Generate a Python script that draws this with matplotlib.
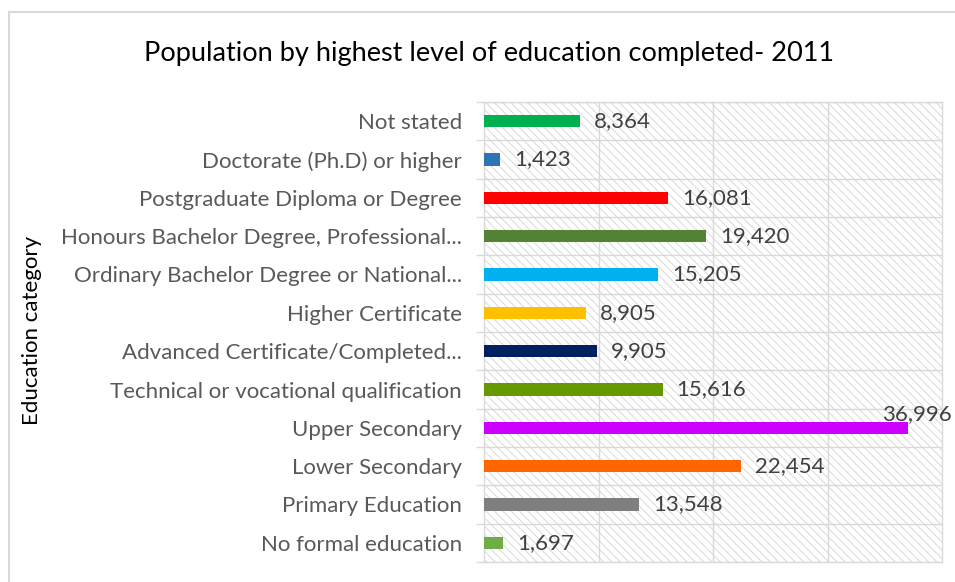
import matplotlib.pyplot as plt
from matplotlib.patches import Rectangle
import numpy as np

categories = [
    'No formal education',
    'Primary Education',
    'Lower Secondary',
    'Upper Secondary',
    'Technical or vocational qualification',
    'Advanced Certificate/Completed...',
    'Higher Certificate',
    'Ordinary Bachelor Degree or National...',
    'Honours Bachelor Degree, Professional...',
    'Postgraduate Diploma or Degree',
    'Doctorate (Ph.D) or higher',
    'Not stated',
]
values = [1697, 13548, 22454, 36996, 15616, 9905, 8905, 15205, 19420, 16081, 1423, 8364]
colors = ['#70AD47', '#7F7F7F', '#FF6600', '#CC00FF', '#669900', '#002060',
          '#FFC000', '#00B0F0', '#548235', '#FF0000', '#2E75B6', '#00B050']

plt.rcParams['font.family'] = ['Lato', 'DejaVu Sans']
plt.rcParams['hatch.linewidth'] = 0.7
plt.rcParams['hatch.color'] = '#d9d9d9'

fig = plt.figure(figsize=(9.55, 5.82), dpi=100)
fig.patches.append(Rectangle((9 / 955, -0.1), 1.2, 1.1 - 12 / 582, transform=fig.transFigure,
                             facecolor='none', edgecolor='#d9d9d9', linewidth=1.5))

ax = fig.add_axes([484 / 955, 20 / 582, 458 / 955, 460 / 582])
ax.add_patch(Rectangle((0, 0), 1, 1, transform=ax.transAxes, facecolor='white',
                       edgecolor='#d9d9d9', hatch='\\\\\\\\', linewidth=0, zorder=0))

y = np.arange(len(categories))
ax.barh(y, values, height=0.32, color=colors, zorder=3)

for i, v in enumerate(values):
    if v == max(values):
        ax.text(v + 800, i + 0.1, f'{v:,}', va='bottom', ha='center', fontsize=16,
                color='#404040', zorder=4)
    else:
        ax.text(v + 1200, i, f'{v:,}', va='center', ha='left', fontsize=16,
                color='#404040', zorder=4)

ax.set_xlim(0, 40000)
ax.set_ylim(-0.5, len(categories) - 0.5)
ax.set_xticks([10000, 20000, 30000])
ax.set_xticklabels([])
ax.tick_params(axis='x', length=0)
ax.set_yticks(y)
ax.set_yticklabels(categories, fontsize=16, color='#595959')
ax.tick_params(axis='y', which='major', length=0, pad=16)
ax.set_yticks(np.arange(-0.5, len(categories), 1), minor=True)
ax.tick_params(axis='y', which='minor', length=6, color='#d9d9d9', width=1)
ax.grid(axis='x', color='#d9d9d9', linewidth=1, zorder=1)
ax.grid(axis='y', which='minor', color='#d9d9d9', linewidth=1, zorder=1)
for s in ax.spines.values():
    s.set_color('#d9d9d9')
    s.set_linewidth(1)

fig.text(489 / 955, 1 - 53 / 582, 'Population by highest level of education completed- 2011',
         ha='center', va='center', fontsize=19.5, color='black')
fig.text(32 / 955, 1 - 330 / 582, 'Education category', rotation=90, ha='center', va='center',
         fontsize=16, color='black')

fig.savefig('out.png', dpi=100)
